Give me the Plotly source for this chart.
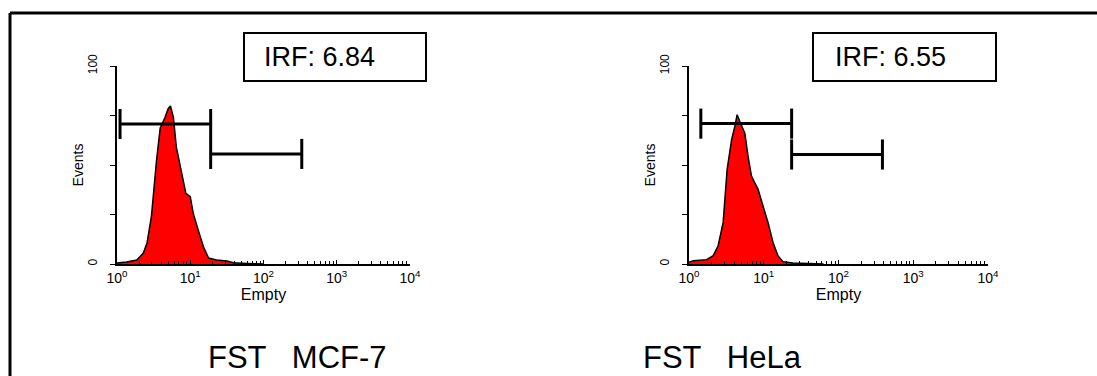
import plotly.graph_objects as go

# ---------------- data ----------------
# MCF-7 histogram (log10 of fluorescence, events in % of full scale)
mcf_log = [0.0, 0.13, 0.27, 0.36, 0.41, 0.47, 0.54, 0.59, 0.655, 0.70, 0.73, 0.77, 0.81,
           0.88, 0.94, 1.00, 1.04, 1.11, 1.18, 1.25, 1.36, 1.50, 1.59, 1.77, 1.9, 2.0]
mcf_evt = [0.5, 1.0, 2.0, 5.5, 10.6, 24, 52.5, 68.7, 74, 78.6, 79.8, 74, 59,
           46, 35.7, 34, 25.7, 17, 8.7, 3, 2, 1.5, 0.6, 0.3, 0.2, 0.0]
# HeLa histogram
hela_log = [0.0, 0.057, 0.236, 0.324, 0.39, 0.457, 0.51, 0.57, 0.613, 0.644, 0.68, 0.747,
            0.79, 0.836, 0.88, 0.924, 0.99, 1.057, 1.124, 1.19, 1.257, 1.39, 1.6, 1.8]
hela_evt = [0.8, 1.7, 2.2, 4.2, 9.2, 21, 47.7, 62.8, 69.5, 75.4, 72, 66,
            54.4, 44.4, 41, 37.7, 29.3, 21, 10.9, 4.2, 1.2, 0.5, 0.3, 0.0]

# marker gates: (x start, x end, level)
mcf_gates = [(1.1, 19.0, 70.7), (19.0, 333.0, 55.6)]
hela_gates = [(1.44, 23.6, 70.9), (23.6, 387.0, 55.3)]

irf_labels = ["IRF: 6.84", "IRF: 6.55"]
panel_titles = ["FST   MCF-7", "FST   HeLa"]
x_tick_vals = [1, 10, 100, 1000, 10000]
x_tick_text = ["10<sup>0</sup>", "10<sup>1</sup>", "10<sup>2</sup>", "10<sup>3</sup>", "10<sup>4</sup>"]
y_tick_vals = [0, 100]
y_tick_text = ["0", "100"]
y_minor_step = 25

# ---------------- figure ----------------
W, H = 1097, 376
fig = go.Figure()

def px_x(p):
    return p / W

def px_y(p):
    return 1 - p / H

panels = [
    dict(log=mcf_log, evt=mcf_evt, gates=mcf_gates, xa="x", ya="y"),
    dict(log=hela_log, evt=hela_evt, gates=hela_gates, xa="x2", ya="y2"),
]

cap = 7.6  # half-height of gate end caps in event units
for p in panels:
    xs = [10 ** v for v in p["log"]]
    fig.add_trace(go.Scatter(x=xs, y=p["evt"], mode="lines", fill="tozeroy",
                             fillcolor="#ff0000", line=dict(color="black", width=1.5),
                             xaxis=p["xa"], yaxis=p["ya"], showlegend=False, hoverinfo="skip"))
    gx, gy = [], []
    for (a, b, lvl) in p["gates"]:
        gx += [a, b, None, a, a, None, b, b, None]
        gy += [lvl, lvl, None, lvl - cap, lvl + cap, None, lvl - cap, lvl + cap, None]
    fig.add_trace(go.Scatter(x=gx, y=gy, mode="lines", line=dict(color="black", width=3),
                             xaxis=p["xa"], yaxis=p["ya"], showlegend=False, hoverinfo="skip"))

xtick_font = dict(family="Liberation Sans, Arial", size=14, color="black")
ytick_font = dict(family="Liberation Sans Narrow, Liberation Sans, Arial", size=12, color="black")
xtitle_font = dict(family="Liberation Sans, Arial", size=16, color="black")
ytitle_font = dict(family="Liberation Sans, Arial", size=14, color="black")

def xaxis_cfg(dom, anchor):
    return dict(domain=dom, anchor=anchor, type="log", range=[0, 4], automargin=False,
                tickvals=x_tick_vals, ticktext=x_tick_text, ticks="inside", ticklen=4,
                tickcolor="black", showline=True, linecolor="black", linewidth=1.5,
                showgrid=False, zeroline=False, tickfont=xtick_font,
                minor=dict(ticks="inside", ticklen=3, tickcolor="black", dtick="D1", showgrid=False),
                title=dict(text="Empty", font=xtitle_font, standoff=0))

def yaxis_cfg(anchor):
    return dict(domain=[px_y(264), px_y(66)], anchor=anchor, range=[0, 100], automargin=False,
                tickvals=y_tick_vals, ticktext=y_tick_text, ticks="outside", ticklen=5,
                tickcolor="black", tickangle=-90, showline=True, linecolor="black",
                linewidth=1.5, showgrid=False, zeroline=False, tickfont=ytick_font,
                ticklabelstandoff=8,
                minor=dict(ticks="outside", ticklen=5, tickcolor="black", dtick=y_minor_step,
                           showgrid=False),
                title=dict(text="Events", font=ytitle_font, standoff=0))

fig.update_layout(
    width=W, height=H, margin=dict(l=0, r=0, t=0, b=0, autoexpand=False),
    paper_bgcolor="white", plot_bgcolor="rgba(0,0,0,0)",
    xaxis=xaxis_cfg([px_x(117), px_x(410)], "y"),
    yaxis=yaxis_cfg("x"),
    xaxis2=xaxis_cfg([px_x(689), px_x(988)], "y2"),
    yaxis2=yaxis_cfg("x2"),
)

# outer frame (left and top edges)
fig.add_shape(type="line", xref="paper", yref="paper", x0=px_x(10), x1=px_x(10),
              y0=0, y1=px_y(13), line=dict(color="black", width=3))
fig.add_shape(type="line", xref="paper", yref="paper", x0=px_x(10), x1=1,
              y0=px_y(13), y1=px_y(13), line=dict(color="black", width=3))

# IRF boxes
boxes = [(244, 426, 262), (813, 996, 833)]
for (x0, x1, tx), lab in zip(boxes, irf_labels):
    fig.add_shape(type="rect", xref="paper", yref="paper", x0=px_x(x0), x1=px_x(x1),
                  y0=px_y(81), y1=px_y(33), line=dict(color="black", width=2), fillcolor="white")
    fig.add_annotation(xref="paper", yref="paper", x=px_x(tx), y=px_y(57), text=lab,
                       showarrow=False, xanchor="left", yanchor="middle",
                       font=dict(family="Liberation Sans, Arial", size=27, color="black"))

# panel titles
for cx, t in zip([297, 722], panel_titles):
    fig.add_annotation(xref="paper", yref="paper", x=px_x(cx), y=px_y(357), text=t,
                       showarrow=False, xanchor="center", yanchor="middle",
                       font=dict(family="Liberation Sans, Arial", size=31, color="black"))

fig.write_html("out.html", config={"displayModeBar": False},
               post_script="document.body.style.margin='0px';")
